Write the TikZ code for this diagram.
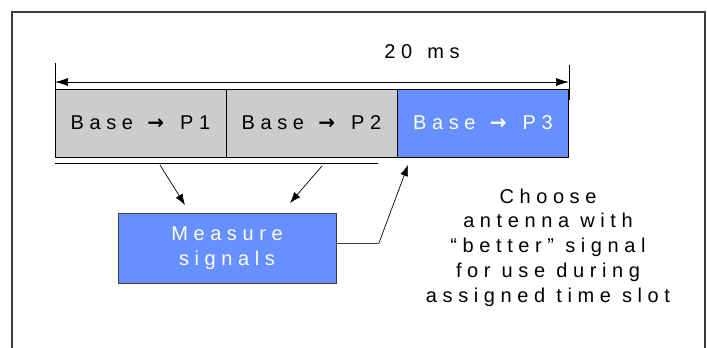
\documentclass[tikz,border=0pt]{standalone}
\usepackage{fontspec}
\setmainfont{Liberation Sans}
\newfontfamily\lsfont[LetterSpace=28]{Liberation Sans}
\newfontfamily\arrfont{DejaVu Sans}
\newcommand{\slotarr}{\hspace{3pt}{\arrfont\bfseries →}\hspace{5pt}}
\usetikzlibrary{arrows.meta}
\definecolor{slotblue}{RGB}{102,144,255}
\definecolor{slotgray}{RGB}{204,204,204}
\definecolor{framegray}{RGB}{60,60,60}
\tikzset{
  lbl/.style={font=\fontsize{20}{24.7}\lsfont, inner sep=0pt},
  slot/.style={draw=black, line width=0.8pt, minimum width=171pt, minimum height=68pt, inner sep=0pt, font=\fontsize{20}{24.7}\lsfont},
  arr/.style={-{Latex[length=11pt,width=8pt]}, line width=0.7pt},
}
\begin{document}
\begin{tikzpicture}[x=1pt,y=-1pt]
\useasboundingbox (0,0) rectangle (707,348);
% frame
\draw[framegray, line width=1.3pt] (12,350) -- (12,12) -- (705,12) -- (705,350);
% dimension
\coordinate (tl1) at (55,63); \coordinate (tl2) at (55,99);
\coordinate (tr1) at (569,65); \coordinate (tr2) at (569,100);
\draw[line width=0.7pt] (tl1) -- (tl2);
\draw[line width=0.7pt] (tr1) -- (tr2);
\coordinate (dl) at (55,82); \coordinate (dr) at (569,82);
\draw[{Latex[length=13pt,width=8pt]}-{Latex[length=13pt,width=8pt]}, line width=0.7pt] (dl) -- (dr);
\node[lbl] (dur) at (422,52) {20\hspace{4pt} ms};
% slots
\node[slot, fill=slotgray] (s1) at (140.5,123) {Base \slotarr\ P1};
\node[slot, fill=slotgray] (s2) at (311.5,123) {Base \slotarr\ P2};
\node[slot, fill=slotblue, text=white] (s3) at (483,123) {Base \slotarr\ P3};
% underline
\coordinate (u1) at (55,163); \coordinate (u2) at (378,163);
\draw[line width=0.8pt] (u1) -- (u2);
% measure
\node[draw=framegray, line width=0.8pt, fill=slotblue, text=white, minimum width=218pt, minimum height=70pt, align=center, font=\fontsize{20}{24.7}\lsfont] (meas) at (227,248) {Measure\\signals};
\coordinate (a1) at (160,165); \coordinate (a1e) at (185,205);
\coordinate (a2) at (322,166); \coordinate (a2e) at (290,203);
\draw[arr] (a1) -- (a1e);
\draw[arr] (a2) -- (a2e);
\coordinate (m1) at (336,243); \coordinate (m2) at (379,243); \coordinate (m3) at (408,165);
\draw[framegray, line width=0.7pt] (m1) -- (m2);
\draw[arr] (m2) -- (m3);
% choose text
\node[lbl, align=center] (choose) at (548,247.5) {Choose\\antenna with\\“better” signal\\for use during\\assigned time slot};
\end{tikzpicture}
\end{document}
